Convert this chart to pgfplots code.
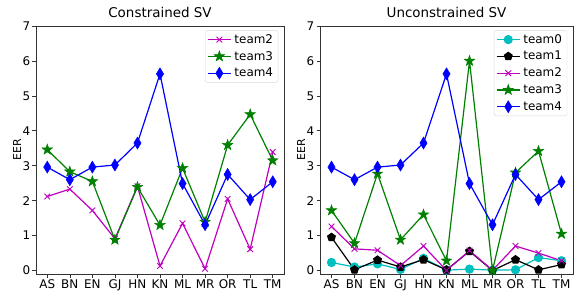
\documentclass[border=0pt]{standalone}
\usepackage{fontspec}
\setmainfont{DejaVu Sans}
\usepackage{pgfplots}
\pgfplotsset{compat=1.18}
\usetikzlibrary{plotmarks}

\definecolor{mplm}{rgb}{0.75,0,0.75}
\definecolor{mplg}{rgb}{0,0.5,0}
\definecolor{mplb}{rgb}{0,0,1}
\definecolor{mplc}{rgb}{0,0.75,0.75}

\pgfdeclareplotmark{tdiamond}{%
  \pgfpathmoveto{\pgfpoint{0pt}{\pgfplotmarksize}}%
  \pgfpathlineto{\pgfpoint{0.6\pgfplotmarksize}{0pt}}%
  \pgfpathlineto{\pgfpoint{0pt}{-\pgfplotmarksize}}%
  \pgfpathlineto{\pgfpoint{-0.6\pgfplotmarksize}{0pt}}%
  \pgfpathclose\pgfusepathqfillstroke}
\pgfdeclareplotmark{fstar}{%
  \pgfpathmoveto{\pgfpointpolar{90}{\pgfplotmarksize}}%
  \pgfpathlineto{\pgfpointpolar{126}{0.4\pgfplotmarksize}}%
  \pgfpathlineto{\pgfpointpolar{162}{\pgfplotmarksize}}%
  \pgfpathlineto{\pgfpointpolar{198}{0.4\pgfplotmarksize}}%
  \pgfpathlineto{\pgfpointpolar{234}{\pgfplotmarksize}}%
  \pgfpathlineto{\pgfpointpolar{270}{0.4\pgfplotmarksize}}%
  \pgfpathlineto{\pgfpointpolar{306}{\pgfplotmarksize}}%
  \pgfpathlineto{\pgfpointpolar{342}{0.4\pgfplotmarksize}}%
  \pgfpathlineto{\pgfpointpolar{18}{\pgfplotmarksize}}%
  \pgfpathlineto{\pgfpointpolar{54}{0.4\pgfplotmarksize}}%
  \pgfpathclose\pgfusepathqfillstroke}

\pgfplotsset{
  myaxis/.style={
    scale only axis, height=248bp,
    xmin=-0.5, xmax=10.5, ymin=-0.1, ymax=7,
    xtick={0,...,10},
    xticklabels={AS,BN,EN,GJ,HN,KN,ML,MR,OR,TL,TM},
    ytick={0,...,7},
    tick align=outside, tick pos=left,
    major tick length=3.5bp,
    axis line style={line width=0.6bp, black!80},
    every tick/.style={line width=0.6bp, black!80},
    tick label style={font=\fontsize{12}{14}\selectfont},
    xticklabel style={inner sep=2bp},
    yticklabel style={inner sep=2bp},
    /pgf/number format/assume math mode=true,
    ylabel={EER},
    ylabel shift=-4bp,
    ylabel style={font=\fontsize{11}{13}\selectfont},
    title style={font=\fontsize{13.5}{16}\selectfont, yshift=-1bp},
    legend style={at={(0.977,0.983)}, anchor=north east,
      draw=black!15, rounded corners=2bp,
      font=\fontsize{12}{14}\selectfont,
      inner xsep=2bp, inner ysep=2bp, row sep=2.5bp,
      nodes={inner xsep=3bp}},
    legend cell align=left,
    legend image code/.code={%
      \draw[mark repeat=2,mark phase=2] plot coordinates {(0bp,0bp) (11.5bp,0bp) (23bp,0bp)};},
    every axis plot/.append style={line width=1.2bp},
  },
  t0/.style={color=mplc, mark=*, mark size=4bp, mark options={solid, fill=mplc}},
  t1/.style={color=black, mark=pentagon*, mark size=4bp, mark options={solid, fill=black}},
  t2/.style={color=mplm, mark=x, mark size=4bp, mark options={solid, line width=0.9bp}},
  t3/.style={color=mplg, mark=fstar, mark size=5.5bp, mark options={solid, fill=mplg, line width=0.5bp}},
  t4/.style={color=mplb, mark=tdiamond, mark size=6bp, mark options={solid, fill=mplb, line width=0.5bp}},
}

\begin{document}
\begin{tikzpicture}
\useasboundingbox (-36bp,-28bp) rectangle (545bp,274bp);
\begin{axis}[myaxis, width=248bp, at={(0bp,0bp)}, anchor=south west,
  title={Constrained SV}]
\addplot[t2] coordinates {(0,2.12) (1,2.33) (2,1.72) (3,0.91) (4,2.41) (5,0.13) (6,1.35) (7,0.05) (8,2.05) (9,0.61) (10,3.39)};
\addlegendentry{team2}
\addplot[t3] coordinates {(0,3.46) (1,2.83) (2,2.55) (3,0.88) (4,2.39) (5,1.30) (6,2.93) (7,1.39) (8,3.59) (9,4.47) (10,3.15)};
\addlegendentry{team3}
\addplot[t4] coordinates {(0,2.96) (1,2.60) (2,2.96) (3,3.02) (4,3.65) (5,5.63) (6,2.49) (7,1.31) (8,2.75) (9,2.03) (10,2.54)};
\addlegendentry{team4}
\end{axis}
\begin{axis}[myaxis, width=253bp, at={(284bp,0bp)}, anchor=south west,
  title={Unconstrained SV}]
\addplot[t0] coordinates {(0,0.23) (1,0.10) (2,0.19) (3,0.03) (4,0.35) (5,0.01) (6,0.04) (7,0.01) (8,0.02) (9,0.37) (10,0.28)};
\addlegendentry{team0}
\addplot[t1] coordinates {(0,0.95) (1,0.02) (2,0.30) (3,0.10) (4,0.31) (5,0.02) (6,0.55) (7,0.00) (8,0.31) (9,0.02) (10,0.17)};
\addlegendentry{team1}
\addplot[t2] coordinates {(0,1.26) (1,0.62) (2,0.58) (3,0.14) (4,0.70) (5,0.00) (6,0.57) (7,0.01) (8,0.70) (9,0.50) (10,0.28)};
\addlegendentry{team2}
\addplot[t3] coordinates {(0,1.72) (1,0.78) (2,2.77) (3,0.88) (4,1.60) (5,0.28) (6,6.00) (7,0.00) (8,2.80) (9,3.42) (10,1.05)};
\addlegendentry{team3}
\addplot[t4] coordinates {(0,2.96) (1,2.60) (2,2.96) (3,3.02) (4,3.65) (5,5.63) (6,2.49) (7,1.31) (8,2.75) (9,2.03) (10,2.54)};
\addlegendentry{team4}
\end{axis}
\end{tikzpicture}
\end{document}
